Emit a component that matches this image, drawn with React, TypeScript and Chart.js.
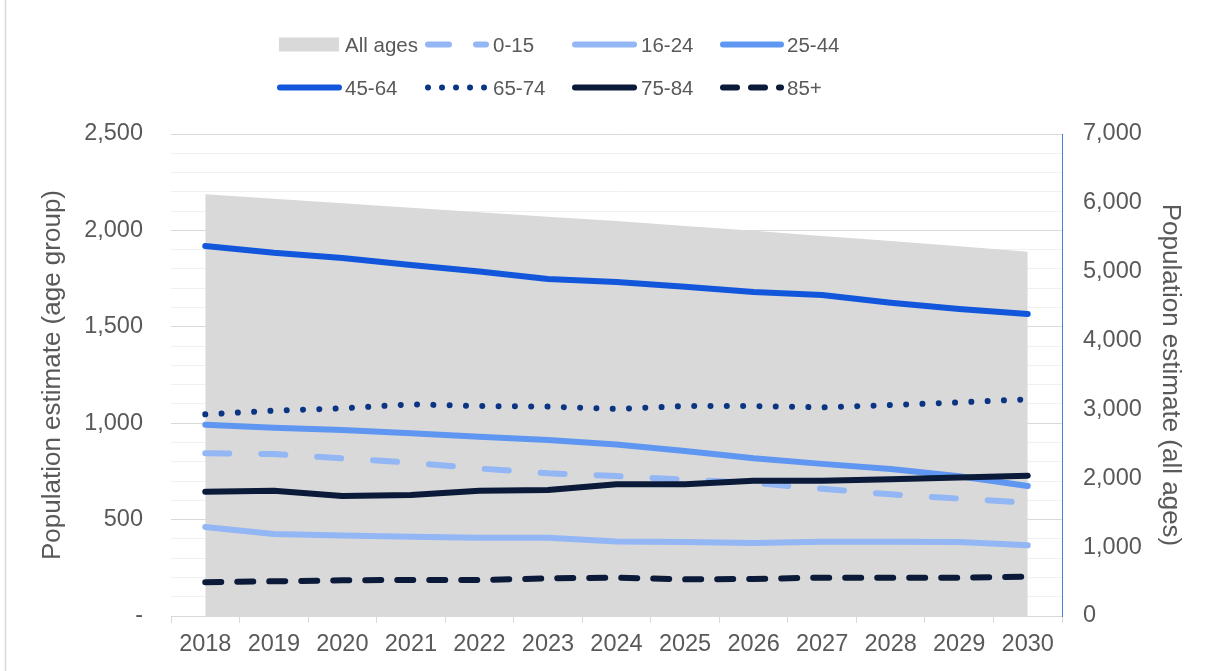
import { useEffect, useRef } from 'react';
import { Chart, registerables } from 'chart.js';

Chart.register(...registerables);

// ---- data ----
const years = ['2018', '2019', '2020', '2021', '2022', '2023', '2024', '2025', '2026', '2027', '2028', '2029', '2030'];
const allAges = [6125, 6060, 5995, 5930, 5865, 5800, 5735, 5665, 5595, 5520, 5445, 5370, 5290];
const age0to15 = [844, 840, 818, 795, 765, 740, 726, 707, 690, 660, 631, 609, 588];
const age16to24 = [462, 425, 417, 411, 406, 406, 386, 384, 378, 385, 385, 384, 367];
const age25to44 = [992, 977, 965, 948, 930, 913, 890, 856, 818, 789, 762, 725, 674];
const age45to64 = [1919, 1884, 1857, 1821, 1787, 1748, 1732, 1708, 1680, 1665, 1625, 1592, 1566];
const age65to74 = [1046, 1065, 1077, 1098, 1089, 1086, 1074, 1089, 1089, 1082, 1094, 1108, 1124];
const age75to84 = [645, 650, 622, 628, 650, 654, 683, 683, 702, 702, 709, 719, 728];
const age85plus = [175, 180, 185, 187, 187, 195, 199, 190, 192, 199, 199, 199, 204];

const leftTicksMax = 2500;
const rightTicksMax = 7000;
const leftTitle = 'Population estimate (age group)';
const rightTitle = 'Population estimate (all ages)';

// ---- styles ----
const FONT = '"Liberation Sans", Arial, Helvetica, sans-serif';
const TEXT = '#595959';
const AREA = '#d9d9d9';
const LIGHT = '#93b6f5';
const MID = '#5f96f1';
const BRIGHT = '#1257db';
const NAVY = '#0b3583';
const DARK = '#0a1a38';

const legendLayout: Record<string, any> = {
  'All ages': { kind: 'box', x0: 279, x1: 339, textX: 345, row: 0 },
  '0-15': { x0: 428, x1: 486, textX: 493, row: 0, dash: [21, 27] },
  '16-24': { x0: 575, x1: 634, textX: 641, row: 0 },
  '25-44': { x0: 723, x1: 781, textX: 787, row: 0 },
  '45-64': { x0: 280, x1: 339, textX: 345, row: 1 },
  '65-74': { x0: 428, x1: 484.5, textX: 493, row: 1, dash: [0.01, 14] },
  '75-84': { x0: 575, x1: 634, textX: 641, row: 1 },
  '85+': { x0: 723, x1: 781, textX: 787, row: 1, dash: [14, 14] },
};
const legendOrder = ['All ages', '0-15', '16-24', '25-44', '45-64', '65-74', '75-84', '85+'];
const rowLineY = [44.5, 87.5];
const rowTextY = [51.5, 94.5];

const legendPlugin = {
  id: 'customLegend',
  afterDraw(chart: any) {
    const ctx = chart.ctx as CanvasRenderingContext2D;
    ctx.save();
    // outer border (left edge)
    ctx.strokeStyle = '#d9d9d9';
    ctx.lineWidth = 1.5;
    ctx.beginPath();
    ctx.moveTo(5.5, 0);
    ctx.lineTo(5.5, chart.height);
    ctx.stroke();

    ctx.font = `20.5px ${FONT}`;
    ctx.textBaseline = 'alphabetic';
    ctx.textAlign = 'left';
    for (const label of legendOrder) {
      const ds = chart.data.datasets.find((d: any) => d.label === label);
      const lay = legendLayout[label];
      if (!ds || !lay) continue;
      const ly = rowLineY[lay.row];
      if (lay.kind === 'box') {
        ctx.fillStyle = ds.backgroundColor;
        ctx.fillRect(lay.x0, ly - 7, lay.x1 - lay.x0, 14);
      } else {
        ctx.strokeStyle = ds.borderColor;
        ctx.lineWidth = 6;
        ctx.lineCap = 'round';
        ctx.setLineDash(lay.dash || []);
        ctx.beginPath();
        ctx.moveTo(lay.x0, ly);
        ctx.lineTo(lay.x1, ly);
        ctx.stroke();
        ctx.setLineDash([]);
      }
      ctx.fillStyle = TEXT;
      ctx.fillText(label, lay.textX, rowTextY[lay.row]);
    }
    ctx.restore();
  },
};

export default function App() {
  const ref = useRef<HTMLCanvasElement>(null);

  useEffect(() => {
    if (!ref.current) return;
    Chart.defaults.font.family = FONT;
    Chart.defaults.color = TEXT;

    const lineDs = (label: string, data: number[], color: string, dash: number[], order: number) => ({
      type: 'line' as const,
      label,
      data,
      borderColor: color,
      backgroundColor: color,
      borderWidth: 6,
      borderDash: dash,
      borderCapStyle: 'round' as const,
      borderJoinStyle: 'round' as const,
      pointRadius: 0,
      pointHoverRadius: 0,
      tension: 0,
      fill: false,
      yAxisID: 'y',
      order,
    });

    const chart = new Chart(ref.current, {
      type: 'line',
      data: {
        labels: years,
        datasets: [
          {
            type: 'line',
            label: 'All ages',
            data: allAges,
            borderWidth: 0,
            borderColor: AREA,
            backgroundColor: AREA,
            pointRadius: 0,
            pointHoverRadius: 0,
            tension: 0,
            fill: 'origin',
            yAxisID: 'y1',
            order: 20,
          },
          lineDs('0-15', age0to15, LIGHT, [24, 32], 7),
          lineDs('16-24', age16to24, LIGHT, [], 6),
          lineDs('25-44', age25to44, MID, [], 5),
          lineDs('45-64', age45to64, BRIGHT, [], 4),
          lineDs('65-74', age65to74, NAVY, [0.01, 16.3], 3),
          lineDs('75-84', age75to84, DARK, [], 2),
          lineDs('85+', age85plus, DARK, [16, 16], 1),
        ] as any,
      },
      options: {
        animation: false,
        responsive: true,
        maintainAspectRatio: false,
        events: [],
        layout: { padding: { top: 134, left: 0, right: 0, bottom: 0 } },
        plugins: {
          legend: { display: false },
          tooltip: { enabled: false },
        },
        scales: {
          x: {
            type: 'category',
            offset: true,
            grid: {
              display: true,
              offset: true,
              drawOnChartArea: false,
              drawTicks: true,
              tickLength: 7,
              color: '#d9d9d9',
              lineWidth: 1,
            },
            border: { display: true, color: '#d9d9d9', width: 1 },
            ticks: {
              font: { size: 23.5 },
              color: TEXT,
              padding: 7,
              maxRotation: 0,
              autoSkip: false,
            },
            afterFit: (s: any) => {
              s.height = 55;
            },
          },
          y: {
            type: 'linear',
            position: 'left',
            min: 0,
            max: leftTicksMax,
            grid: {
              drawTicks: false,
              color: (c: any) => (c.tick && c.tick.value % 500 === 0 ? '#d9d9d9' : '#f0f0f0'),
              lineWidth: 1,
            },
            border: { display: false },
            ticks: {
              stepSize: 100,
              autoSkip: false,
              padding: 28,
              font: { size: 23.5 },
              color: TEXT,
              callback: (v: any) => {
                const n = Number(v);
                if (n === 0) return '-';
                if (n % 500 === 0) return n.toLocaleString('en-US');
                return '';
              },
            },
            title: {
              display: true,
              text: leftTitle,
              font: { size: 26 },
              color: TEXT,
              padding: { top: 37.4, bottom: 0 },
            },
            afterFit: (s: any) => {
              s.width = 171;
            },
          },
          y1: {
            type: 'linear',
            position: 'right',
            min: 0,
            max: rightTicksMax,
            grid: {
              display: true,
              drawOnChartArea: false,
              drawTicks: false,
              color: '#4a7fd0',
            },
            border: { display: true, color: '#4a7fd0', width: 1, dash: [3, 3] },
            ticks: {
              stepSize: 1000,
              padding: 21,
              font: { size: 23.5 },
              color: TEXT,
              callback: (v: any) => Number(v).toLocaleString('en-US'),
            },
            title: {
              display: true,
              text: rightTitle,
              font: { size: 26 },
              color: TEXT,
              padding: { top: 25.4, bottom: 0 },
            },
            afterFit: (s: any) => {
              s.width = 149;
            },
          },
        },
      },
      plugins: [legendPlugin],
    });

    return () => chart.destroy();
  }, []);

  return (
    <div style={{ position: 'fixed', left: 0, top: 0, width: 1211, height: 671, background: '#ffffff' }}>
      <canvas ref={ref} />
    </div>
  );
}
